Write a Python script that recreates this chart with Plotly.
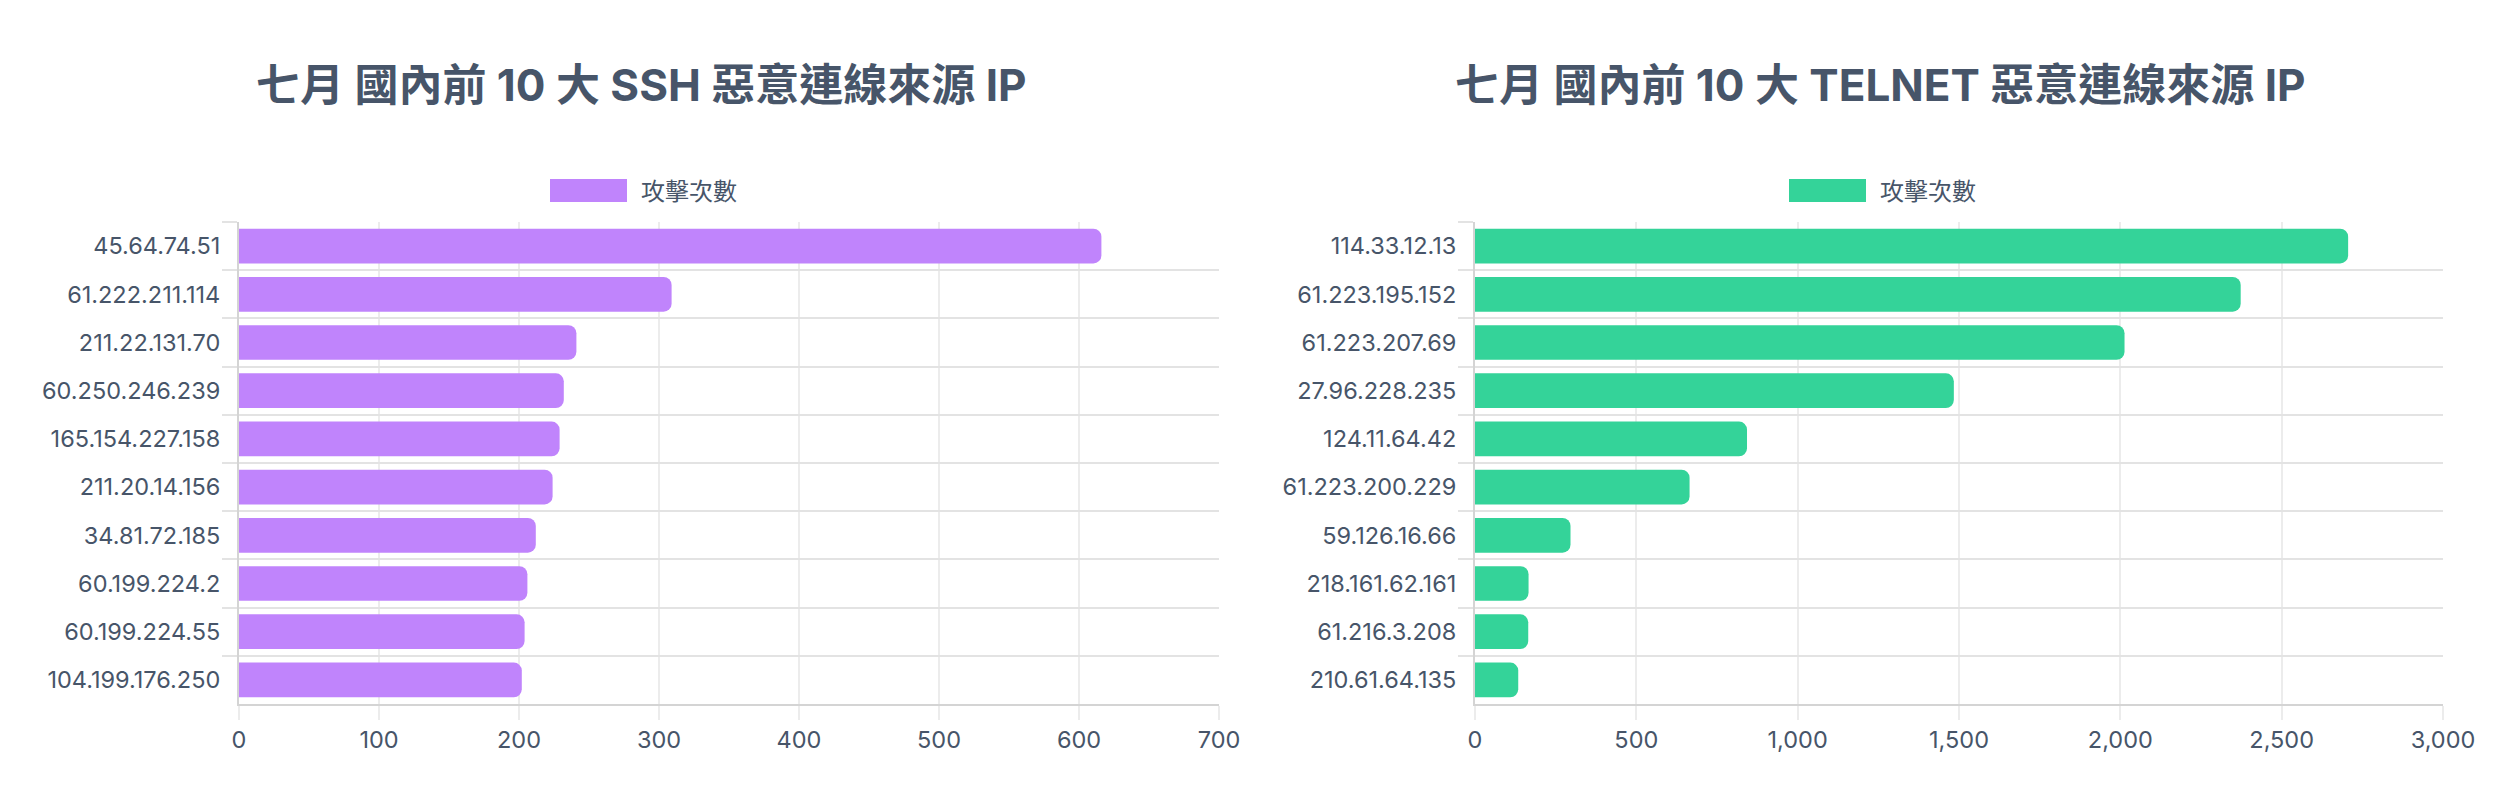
import plotly.graph_objects as go

# 七月 國內前 10 大惡意連線來源
ssh_ips = ["45.64.74.51", "61.222.211.114", "211.22.131.70", "60.250.246.239",
           "165.154.227.158", "211.20.14.156", "34.81.72.185", "60.199.224.2",
           "60.199.224.55", "104.199.176.250"]
ssh_counts = [616, 309, 241, 232, 229, 224, 212, 206, 204, 202]

telnet_ips = ["114.33.12.13", "61.223.195.152", "61.223.207.69", "27.96.228.235",
              "124.11.64.42", "61.223.200.229", "59.126.16.66", "218.161.62.161",
              "61.216.3.208", "210.61.64.135"]
telnet_counts = [2706, 2373, 2013, 1484, 843, 665, 296, 166, 165, 134]

titles = ["七月 國內前 10 大 SSH 惡意連線來源 IP", "七月 國內前 10 大 TELNET 惡意連線來源 IP"]
series_name = "攻擊次數"
colors = ["#c084fc", "#34d399"]

FONT = "Inter, 'Noto Sans CJK TC', sans-serif"
TEXT = "#475569"
W, H = 2520, 800

fig = go.Figure()
fig.add_trace(go.Bar(x=ssh_counts, y=ssh_ips, orientation="h", name=series_name,
                     marker=dict(color=colors[0], cornerradius=8, line=dict(width=0)),
                     xaxis="x", yaxis="y", showlegend=False))
fig.add_trace(go.Bar(x=telnet_counts, y=telnet_ips, orientation="h", name=series_name,
                     marker=dict(color=colors[1], cornerradius=8, line=dict(width=0)),
                     xaxis="x2", yaxis="y2", showlegend=False))

ydom = [96 / H, 578 / H]
doms = [[239 / W, 1219 / W], [1475 / W, 2443 / W]]
centers = [641 / W, 1880 / W]

xcommon = dict(showgrid=True, gridcolor="#ececec", gridwidth=1.5, zeroline=False,
               showline=True, linecolor="#d4d4d4", linewidth=2, automargin=False,
               ticks="outside", ticklen=14, tickcolor="#ececec", tickwidth=1.5,
               tickfont=dict(family=FONT, size=23.5, color=TEXT))
ycommon = dict(type="category", tickson="boundaries", showgrid=True, gridcolor="#e3e3e3",
               gridwidth=2, showline=True, linecolor="#d4d4d4", linewidth=2,
               automargin=False, ticklabelstandoff=12,
               ticks="outside", ticklen=15, tickcolor="#e3e3e3", tickwidth=2,
               range=[9.5, -0.5], tickfont=dict(family=FONT, size=23.5, color=TEXT))

fig.update_layout(
    width=W, height=H,
    margin=dict(l=0, r=0, t=0, b=0, pad=0),
    paper_bgcolor="white", plot_bgcolor="white",
    bargap=0.28,
    xaxis=dict(domain=doms[0], anchor="y", range=[0, 700], dtick=100, **xcommon),
    yaxis=dict(domain=ydom, anchor="x", **ycommon),
    xaxis2=dict(domain=doms[1], anchor="y2", range=[0, 3000], dtick=500,
                tickformat=",d", **xcommon),
    yaxis2=dict(domain=ydom, anchor="x2", **ycommon),
)

for i in range(2):
    fig.add_annotation(text="<b>" + titles[i] + "</b>", x=centers[i], y=1 - 85 / H,
                       xref="paper", yref="paper", showarrow=False,
                       xanchor="center", yanchor="middle",
                       font=dict(family=FONT, size=44, color=TEXT))
    # legend swatch + label
    fig.add_shape(type="rect", xref="paper", yref="paper",
                  x0=centers[i] - 91 / W, x1=centers[i] - 14 / W,
                  y0=1 - 202 / H, y1=1 - 179 / H,
                  fillcolor=colors[i], line=dict(width=0))
    fig.add_annotation(text=series_name, x=centers[i] - 2 / W, y=1 - 191 / H,
                       xref="paper", yref="paper", showarrow=False,
                       xanchor="left", yanchor="middle",
                       font=dict(family=FONT, size=24, color=TEXT))

fig.write_html("out.html", config={"displayModeBar": False},
               post_script="document.body.style.margin='0';")
